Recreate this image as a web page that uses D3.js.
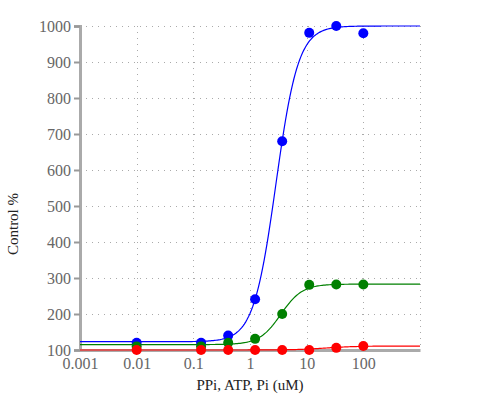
<html>
<head>
<meta charset="utf-8">
<script src="https://cdn.jsdelivr.net/npm/d3@7"></script>
<style>
  body { margin: 0; background: #fff; }
  text { font-family: "Liberation Serif", "Times New Roman", serif; }
  .tick-label { fill: #666; font-size: 16px; }
  .title { fill: #222; font-size: 15px; }
</style>
</head>
<body>
<svg id="chart" width="500" height="400"></svg>
<script>
// concentrations (uM)
var conc = [0.01, 0.137, 0.412, 1.23, 3.7, 11.1, 33.3, 100];

// measured values, % of control
var blueVals  = [120, 120, 140, 241, 680, 981, 1000, 980];
var greenVals = [110, 110, 120, 131, 200, 281, 282, 282];
var redVals   = [100, 100, 100, 100, 100, 100, 106, 111];

// fitted 4PL parameters per series: bottom, top, EC50, hill
var blueFit  = [123, 1000, 2.87, 2.2];
var greenFit = [115, 283, 3.5, 2.3];
var redFit   = [100, 111, 22, 1.6];

var xTicks = [0.001, 0.01, 0.1, 1, 10, 100];
var xTickLabels = ["0.001", "0.01", "0.1", "1", "10", "100"];
var yTicks = [100, 200, 300, 400, 500, 600, 700, 800, 900, 1000];

var series = [
    {vals: blueVals,  fit: blueFit,  color: "#0000ff"},
    {vals: greenVals, fit: greenFit, color: "#008000"},
    {vals: redVals,   fit: redFit,   color: "#ff0000"}
];

var svg = d3.select("#chart");
var mLeft = 80, mRight = 420, mTop = 26, mBottom = 350;

var x = d3.scaleLog().domain([0.001, 1000]).range([mLeft, mRight]);
var y = d3.scaleLinear().domain([100, 1000]).range([mBottom, mTop]);

// grid
var grid = svg.append("g")
    .attr("stroke", "#aaa")
    .attr("stroke-width", 1)
    .attr("stroke-dasharray", "1,5");

grid.selectAll("line.h")
    .data(yTicks.slice(1))
    .enter().append("line")
    .attr("x1", mLeft).attr("x2", mRight)
    .attr("y1", function(d) { return y(d) + 0.5; })
    .attr("y2", function(d) { return y(d) + 0.5; });

grid.selectAll("line.v")
    .data(xTicks.slice(1).concat([1000]))
    .enter().append("line")
    .attr("x1", function(d) { return Math.round(x(d)) + 0.5; })
    .attr("x2", function(d) { return Math.round(x(d)) + 0.5; })
    .attr("y1", mTop).attr("y2", mBottom);

// axes
var yAxis = d3.axisLeft(y).tickValues(yTicks).tickFormat(d3.format("d")).tickSize(6).tickPadding(3);
var yg = svg.append("g").attr("transform", "translate(" + mLeft + ",0)").call(yAxis);
yg.select(".domain").attr("stroke", "#aaa").attr("stroke-width", 3);
yg.selectAll(".tick line").attr("stroke", "#999").attr("stroke-width", 2);
yg.selectAll(".tick text").attr("class", "tick-label").attr("dy", "0.35em");

var xAxis = d3.axisBottom(x).tickValues(xTicks)
    .tickFormat(function(d, i) { return xTickLabels[i]; })
    .tickSize(0).tickPadding(8);
var xg = svg.append("g").attr("transform", "translate(0," + mBottom + ")").call(xAxis);
xg.select(".domain").attr("stroke", "#aaa").attr("stroke-width", 3);
xg.selectAll(".tick text").attr("class", "tick-label");

// fitted curves
function hill(p, c) {
    return p[0] + (p[1] - p[0]) / (1 + Math.pow(p[2] / c, p[3]));
}
var curveX = d3.range(0, 241).map(function(i) { return x.invert(mLeft + i * (mRight - mLeft) / 240); });

var line = d3.line()
    .x(function(d) { return x(d[0]); })
    .y(function(d) { return y(d[1]); });

series.forEach(function(s) {
    svg.append("path")
        .datum(curveX.map(function(c) { return [c, hill(s.fit, c)]; }))
        .attr("d", line)
        .attr("fill", "none")
        .attr("stroke", s.color)
        .attr("stroke-width", 1.2);
});

series.forEach(function(s) {
    svg.append("g").selectAll("circle")
        .data(s.vals)
        .enter().append("circle")
        .attr("cx", function(d, i) { return x(conc[i]); })
        .attr("cy", function(d) { return y(d); })
        .attr("r", 5)
        .attr("fill", s.color);
});

// titles
svg.append("text")
    .attr("class", "title")
    .attr("x", 250).attr("y", 390)
    .attr("text-anchor", "middle")
    .text("PPi, ATP, Pi (uM)");

svg.append("text")
    .attr("class", "title")
    .attr("transform", "translate(18,224) rotate(-90)")
    .attr("text-anchor", "middle")
    .text("Control %");
</script>
</body>
</html>
